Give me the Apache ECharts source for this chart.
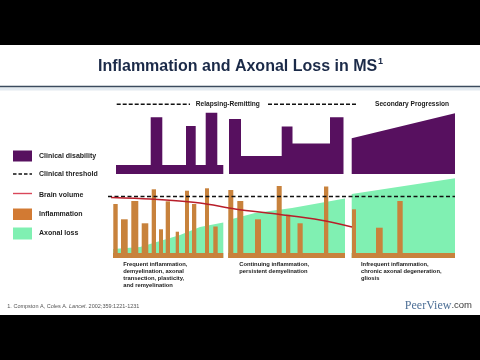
<!DOCTYPE html>
<html>
<head>
<meta charset="utf-8">
<script src="https://cdn.jsdelivr.net/npm/echarts@6/dist/echarts.min.js"></script>
<style>html,body{margin:0;padding:0;background:#fff}#c{width:480px;height:360px}</style>
</head>
<body>
<div id="c"></div>
<script>
// ---- data (x in arbitrary time units, y in arbitrary magnitude units) ----
const legendNames = ['Clinical disability', 'Clinical threshold', 'Brain volume', 'Inflammation', 'Axonal loss'];
const phaseLabels = ['Relapsing-Remitting', 'Secondary Progression'];
const phaseCaptions = [
  'Frequent inflammation,\ndemyelination, axonal\ntransection, plasticity,\nand remyelination',
  'Continuing inflammation,\npersistent demyelination',
  'Infrequent inflammation,\nchronic axonal degeneration,\ngliosis'
];
const disabilityRR1 = [[8,9],[42.7,9],[42.7,56.7],[54.3,56.7],[54.3,9],[78,9],[78,48],[87.7,48],[87.7,9],[97.7,9],[97.7,61.3],[109.3,61.3],[109.3,9],[115.3,9]];
const disabilityRR2 = [[121,55],[133,55],[133,18],[173.7,18],[173.7,47.5],[184.5,47.5],[184.5,30.5],[222,30.5],[222,56.7],[235.5,56.7]];
const disabilitySP = [[243.7,35.7],[347,60.7]];
const inflammationBars = [[5.3,9.7,54],[13,19.7,38.7],[23.3,30.3,57],[33.7,40.3,34.7],[43.7,48,68.7],[51,55,28.7],[57.7,62,56.7],[67.7,71,26.3],[77,81,67.3],[84,88.3,54],[97,101,69.7],[105.3,109.7,31.5],
  [120.3,125.3,68],[129.3,135.3,57],[147,153,38.7],[168.7,173.7,72],[178,182.3,43.3],[189.5,194.7,34.7],[216,220.3,71.5],
  [244,248,48.7],[268,274.7,30.3],[289.3,294.7,57]];
const inflammationBaseline = [[5,115.3,5],[120.3,237,5],[243.7,347,5]];
const axonalRR1 = [[5,9],[32,11],[52,17],[72,23],[92,31],[115.3,35.5]];
const axonalRR2 = [[120.3,38],[147,45],[184,50],[237,59.5]];
const axonalSP = [[243.7,64],[347,79.7]];
const brainVolume = [[3,60.5],[42,59],[92,55],[127,49],[172,43.5],[212,38],[244,31]];
const clinicalThreshold = [[0,61.5],[347,61.5]];

// ---- styles ----
const PURPLE = '#57105f', ORANGE = '#c8823c', GREEN = '#80f0b2', RED = '#b81e2a';
const FONT = '"Liberation Sans", Arial, sans-serif';

const chart = echarts.init(document.getElementById('c'), null, {renderer: 'canvas'});

function areaSeries(name, data, color, xi) {
  return {name, type: 'line', xAxisIndex: xi, yAxisIndex: xi, data, symbol: 'none', silent: true,
    lineStyle: {width: 0, color}, itemStyle: {color}, areaStyle: {color, opacity: 1}, z: 2, animation: false};
}
function rectItem(color) {
  return function (params, api) {
    const p0 = api.coord([api.value(0), 0]);
    const p1 = api.coord([api.value(1), api.value(2)]);
    return {type: 'rect', shape: {x: p0[0], y: p1[1], width: p1[0] - p0[0], height: p0[1] - p1[1]}, style: {fill: color}};
  };
}

const legendY = [156, 174.3, 195, 214, 233.3];
const graphic = [
  {type: 'rect', shape: {x: 0, y: 0, width: 480, height: 45}, style: {fill: '#000'}},
  {type: 'rect', shape: {x: 0, y: 315, width: 480, height: 45}, style: {fill: '#000'}},
  {type: 'text', x: 98, y: 66.5, style: {text: 'Inflammation and Axonal Loss in MS', font: 'bold 16px ' + FONT, fill: '#1b2a48', textVerticalAlign: 'middle', textAlign: 'left'}},
  {type: 'text', x: 378, y: 61.5, style: {text: '1', font: 'bold 9px ' + FONT, fill: '#1b2a48', textVerticalAlign: 'middle', textAlign: 'left'}},
  {type: 'rect', shape: {x: 0, y: 87.5, width: 480, height: 3}, style: {fill: '#e3eaf0'}},
  {type: 'line', shape: {x1: 0, y1: 86.5, x2: 480, y2: 86.5}, style: {stroke: '#3b4b5e', lineWidth: 1.6}},
  // phase header
  {type: 'line', shape: {x1: 116.7, y1: 104.3, x2: 190, y2: 104.3}, style: {stroke: '#111', lineWidth: 1.4, lineDash: [4, 2]}},
  {type: 'line', shape: {x1: 268, y1: 104.3, x2: 358, y2: 104.3}, style: {stroke: '#111', lineWidth: 1.4, lineDash: [4, 2]}},
  {type: 'text', x: 195.7, y: 104.3, style: {text: phaseLabels[0], font: 'bold 6.6px ' + FONT, fill: '#1a1a1a', textVerticalAlign: 'middle'}},
  {type: 'text', x: 375, y: 104.3, style: {text: phaseLabels[1], font: 'bold 6.6px ' + FONT, fill: '#1a1a1a', textVerticalAlign: 'middle'}},
  // captions
  {type: 'text', x: 123.3, y: 260.5, style: {text: phaseCaptions[0], font: 'bold 5.8px ' + FONT, lineHeight: 7, fill: '#1a1a1a', textVerticalAlign: 'top'}},
  {type: 'text', x: 239.3, y: 260.5, style: {text: phaseCaptions[1], font: 'bold 5.8px ' + FONT, lineHeight: 7, fill: '#1a1a1a', textVerticalAlign: 'top'}},
  {type: 'text', x: 361, y: 260.5, style: {text: phaseCaptions[2], font: 'bold 5.8px ' + FONT, lineHeight: 7, fill: '#1a1a1a', textVerticalAlign: 'top'}},
  // legend
  {type: 'rect', shape: {x: 13, y: 150.5, width: 19, height: 11}, style: {fill: PURPLE}},
  {type: 'line', shape: {x1: 13, y1: 174, x2: 32, y2: 174}, style: {stroke: '#111', lineWidth: 1.4, lineDash: [3.5, 2]}},
  {type: 'line', shape: {x1: 13, y1: 193.5, x2: 32, y2: 193.5}, style: {stroke: '#d9475a', lineWidth: 1.4}},
  {type: 'rect', shape: {x: 13, y: 208.5, width: 19, height: 11.5}, style: {fill: '#d27a33'}},
  {type: 'rect', shape: {x: 13, y: 227.5, width: 19, height: 12}, style: {fill: GREEN}},
  // footer
  {type: 'text', x: 7.3, y: 306, style: {text: '1. Compston A, Coles A. {i|Lancet}. 2002;359:1221-1231', font: '5.5px ' + FONT, fill: '#555', textVerticalAlign: 'middle',
    rich: {i: {font: 'italic 5.5px ' + FONT, fill: '#555'}}}},
  {type: 'text', x: 472, y: 305.5, style: {text: '{p|PeerView}{c|.com}', textAlign: 'right', textVerticalAlign: 'middle',
    rich: {p: {font: '12px "Liberation Serif", serif', fill: '#4d6f96'}, c: {font: '9.5px ' + FONT, fill: '#3a3a3a'}}}}
];
legendNames.forEach((n, i) => graphic.push({type: 'text', x: 39, y: legendY[i], style: {text: n, font: 'bold 7px ' + FONT, fill: '#1e1e1e', textVerticalAlign: 'middle'}}));

chart.setOption({
  backgroundColor: '#ffffff',
  animation: false,
  grid: [
    {left: 108, width: 347, top: 104, height: 70},
    {left: 108, width: 347, top: 178, height: 80}
  ],
  xAxis: [
    {type: 'value', gridIndex: 0, min: 0, max: 347, show: false},
    {type: 'value', gridIndex: 1, min: 0, max: 347, show: false}
  ],
  yAxis: [
    {type: 'value', gridIndex: 0, min: 0, max: 70, show: false},
    {type: 'value', gridIndex: 1, min: 0, max: 80, show: false}
  ],
  series: [
    areaSeries(legendNames[0], disabilityRR1, PURPLE, 0),
    areaSeries(legendNames[0], disabilityRR2, PURPLE, 0),
    areaSeries(legendNames[0], disabilitySP, PURPLE, 0),
    areaSeries(legendNames[4], axonalRR1, GREEN, 1),
    areaSeries(legendNames[4], axonalRR2, GREEN, 1),
    areaSeries(legendNames[4], axonalSP, GREEN, 1),
    {name: legendNames[3], type: 'custom', xAxisIndex: 1, yAxisIndex: 1, data: inflammationBaseline, renderItem: rectItem(ORANGE), encode: {x: [0, 1], y: 2}, z: 3, silent: true},
    {name: legendNames[3], type: 'custom', xAxisIndex: 1, yAxisIndex: 1, data: inflammationBars, renderItem: rectItem(ORANGE), encode: {x: [0, 1], y: 2}, z: 3, silent: true},
    {name: legendNames[1], type: 'line', xAxisIndex: 1, yAxisIndex: 1, data: clinicalThreshold, symbol: 'none', silent: true,
      lineStyle: {color: '#111', width: 1.5, type: [4, 2.5]}, z: 5},
    {name: legendNames[2], type: 'line', xAxisIndex: 1, yAxisIndex: 1, data: brainVolume, symbol: 'none', smooth: 0.3, silent: true,
      lineStyle: {color: RED, width: 1.4}, z: 6}
  ],
  graphic
});
</script>
</body>
</html>
